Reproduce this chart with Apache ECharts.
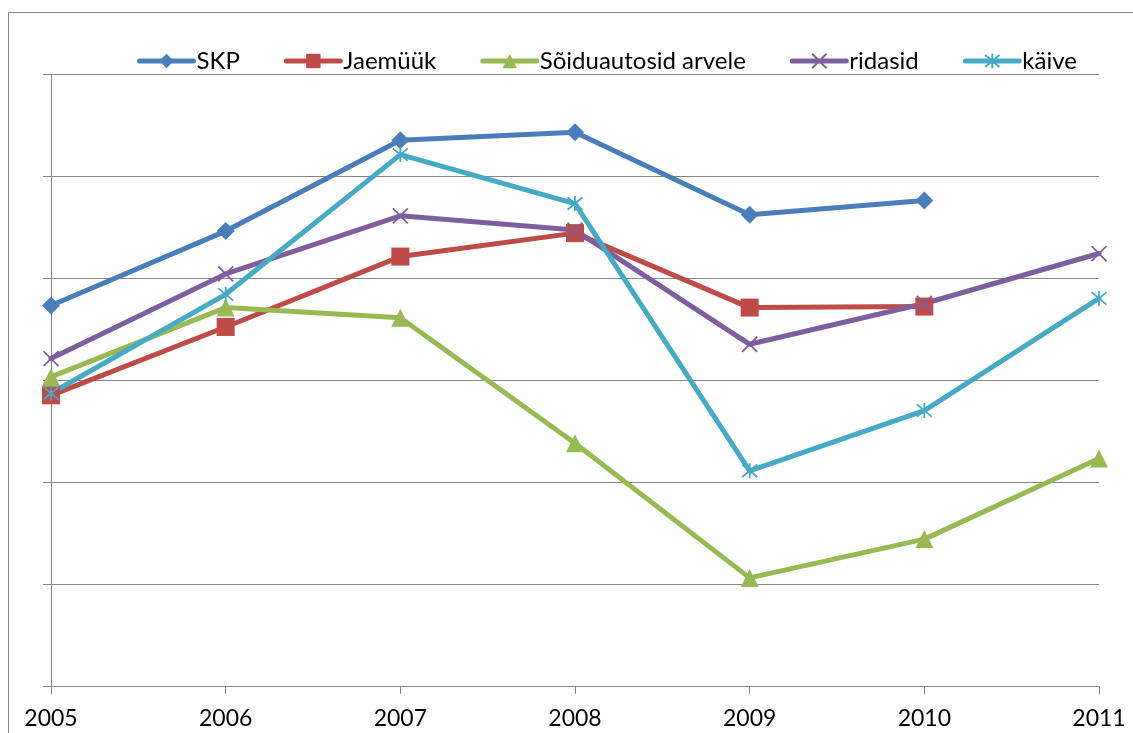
<!DOCTYPE html>
<html>
<head>
<meta charset="UTF-8">
<title>SKP, Jaemüük, Sõiduautosid arvele, ridasid, käive</title>
<script src="https://cdn.jsdelivr.net/npm/echarts@6/dist/echarts.min.js"></script>
<style>
  html, body { margin: 0; padding: 0; background: #fff; }
</style>
</head>
<body>
<div id="main" style="width:1133px;height:733px;"></div>
<script type="text/javascript">
// aastad
var years = ['2005', '2006', '2007', '2008', '2009', '2010', '2011'];
// väärtused (telg 0..60, sildid peidetud)
var skp       = [37.3, 44.6, 53.5, 54.3, 46.2, 47.6, null];
var jaemuuk   = [28.5, 35.2, 42.1, 44.4, 37.1, 37.2, null];
var soiduauto = [30.3, 37.1, 36.1, 23.8, 10.6, 14.4, 22.3];
var ridasid   = [32.1, 40.4, 46.1, 44.7, 33.5, 37.5, 42.4];
var kaive     = [28.7, 38.4, 52.1, 47.3, 21.1, 27.0, 38.0];

var names = ['SKP', 'Jaemüük', 'Sõiduautosid arvele', 'ridasid', 'käive'];
var colors = ['#4a7ebb', '#be4b48', '#98b954', '#7d5fa0', '#46aac5'];

var crossPath = 'path://M0 0L10 10M10 0L0 10';
var starPath = 'path://M0 0L10 10M10 0L0 10M5 -1L5 11';

var myChart = echarts.init(document.getElementById('main'));

function lineSeries(i, data, symbol, size, stroked) {
    return {
        name: names[i],
        type: 'line',
        data: data,
        symbol: symbol,
        symbolSize: size,
        showAllSymbol: true,
        connectNulls: false,
        lineStyle: { color: colors[i], width: 5, cap: 'round', join: 'round' },
        itemStyle: stroked
            ? { color: 'rgba(0,0,0,0)', borderColor: colors[i], borderWidth: 1.8 }
            : { color: colors[i], borderColor: colors[i], borderWidth: 0 },
        emphasis: { disabled: true },
        z: 2
    };
}

var option = {
    backgroundColor: '#fff',
    animation: false,
    textStyle: { fontFamily: 'Lato, "Noto Sans", sans-serif' },
    graphic: [{
        type: 'rect',
        shape: { x: 8.5, y: 12.5, width: 1300, height: 900 },
        style: { fill: 'none', stroke: '#868686', lineWidth: 1 },
        silent: true
    }],
    legend: {
        top: 44,
        left: 132,
        itemGap: 44,
        itemWidth: 54,
        itemHeight: 18,
        lineStyle: { width: 5, cap: 'round' },
        textStyle: { fontSize: 24, color: '#000', padding: [0, 0, 0, -2] },
        data: names
    },
    grid: { left: 51, right: 34, top: 74, bottom: 47 },
    xAxis: {
        type: 'category',
        data: years,
        boundaryGap: false,
        axisLine: { lineStyle: { color: '#868686', width: 1 } },
        axisTick: { show: true, alignWithLabel: true, length: 8, lineStyle: { color: '#868686' } },
        axisLabel: { fontSize: 23, color: '#000', margin: 21 },
        splitLine: { show: false }
    },
    yAxis: {
        type: 'value',
        min: 0,
        max: 60,
        interval: 10,
        axisLine: { show: true, lineStyle: { color: '#868686', width: 1 } },
        axisTick: { show: true, length: 8, lineStyle: { color: '#868686' } },
        axisLabel: { show: false },
        splitLine: { show: true, lineStyle: { color: '#868686', width: 1 } }
    },
    series: [
        lineSeries(0, skp, 'diamond', 18, false),
        lineSeries(1, jaemuuk, 'rect', 18, false),
        lineSeries(2, soiduauto, 'triangle', 18, false),
        lineSeries(3, ridasid, crossPath, 15, true),
        lineSeries(4, kaive, starPath, 15, true)
    ]
};

myChart.setOption(option);
</script>
</body>
</html>
